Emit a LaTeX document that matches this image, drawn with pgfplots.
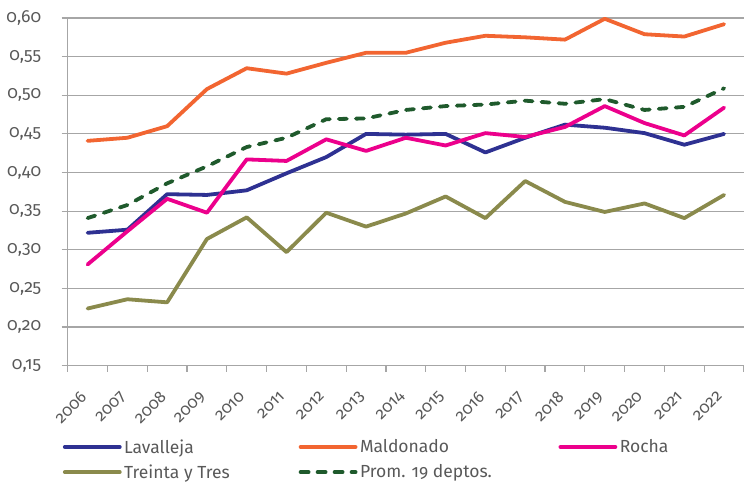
\documentclass[border=0pt]{standalone}
\usepackage{pgfplots}
\pgfplotsset{compat=1.18}
\usepackage{fontspec}
\setmainfont{Fira Sans}[Numbers=OldStyle]
\definecolor{cLav}{HTML}{2E3192}
\definecolor{cMal}{HTML}{F26531}
\definecolor{cRoc}{HTML}{EC008C}
\definecolor{cTyT}{HTML}{8A8A4C}
\definecolor{cProm}{HTML}{1F5A2C}
\definecolor{cTxt}{HTML}{595959}
\definecolor{cGrid}{HTML}{A6A6A6}
\newcommand{\lt}[1]{\makebox[172pt][l]{#1}}
\begin{document}
\begin{tikzpicture}[font=\fontsize{17.5}{21}\selectfont]
\useasboundingbox (-67.7pt,-118.3pt) rectangle (676.3pt,365.7pt);
\begin{axis}[
  scale only axis,
  width=676.3pt, height=347.7pt,
  xmin=-0.5, xmax=16.5,
  ymin=0.15, ymax=0.60,
  axis x line*=bottom, axis y line*=left,
  axis line style={draw=cGrid, line width=1.2pt, -},
  xtick={0,...,16},
  xticklabels={2006,2007,2008,2009,2010,2011,2012,2013,2014,2015,2016,2017,2018,2019,2020,2021,2022},
  minor xtick={-0.5,0.5,...,16.5},
  major x tick style={draw=none},
  tick align=outside,
  major tick length=6pt, minor tick length=6pt,
  tick style={draw=cGrid, line width=1.2pt},
  ytick={0.15,0.20,0.25,0.30,0.35,0.40,0.45,0.50,0.55,0.60},
  ymajorgrids,
  grid style={draw=cGrid, line width=1.2pt},
  /pgf/number format/assume math mode=true,
  yticklabel style={/pgf/number format/.cd, fixed, fixed zerofill, precision=2, use comma, /tikz/.cd, text=cTxt, xshift=-17pt},
  xticklabel style={xshift=-8pt, yshift=-17pt, rotate=45, anchor=north east, text=cTxt, inner sep=1pt, font=\fontsize{16.5}{20}\selectfont},
  legend columns=3,
  legend cell align=left,
  legend image code/.code={\draw[#1] (0pt,0pt) -- (55pt,0pt);},
  legend style={draw=none, fill=none, text=cTxt, inner sep=0pt,
    at={([xshift=-5pt,yshift=-73pt]axis description cs:0,0)}, anchor=north west,
    nodes={inner xsep=2.5pt, inner ysep=0.5pt},
    row sep=9pt, column sep=0pt,
    /tikz/column 4/.style={column sep=24pt}},
  every axis plot/.append style={line width=3.8pt, line join=round, line cap=round},
]
\addplot[cLav] coordinates {(0,0.322) (1,0.326) (2,0.372) (3,0.371) (4,0.377) (5,0.399) (6,0.420) (7,0.450) (8,0.449) (9,0.450) (10,0.426) (11,0.445) (12,0.462) (13,0.458) (14,0.451) (15,0.436) (16,0.450)};
\addlegendentry{\lt{Lavalleja}}
\addplot[cMal] coordinates {(0,0.441) (1,0.445) (2,0.460) (3,0.508) (4,0.535) (5,0.528) (6,0.542) (7,0.555) (8,0.555) (9,0.568) (10,0.577) (11,0.575) (12,0.572) (13,0.599) (14,0.579) (15,0.576) (16,0.592)};
\addlegendentry{\lt{Maldonado}}
\addplot[cRoc] coordinates {(0,0.281) (1,0.324) (2,0.366) (3,0.348) (4,0.417) (5,0.415) (6,0.443) (7,0.428) (8,0.445) (9,0.435) (10,0.451) (11,0.446) (12,0.459) (13,0.486) (14,0.464) (15,0.448) (16,0.484)};
\addlegendentry{\lt{Rocha}}
\addplot[cTyT] coordinates {(0,0.224) (1,0.236) (2,0.232) (3,0.314) (4,0.342) (5,0.297) (6,0.348) (7,0.330) (8,0.347) (9,0.369) (10,0.341) (11,0.389) (12,0.362) (13,0.349) (14,0.360) (15,0.341) (16,0.371)};
\addlegendentry{\lt{Treinta y Tres}}
\addplot[cProm, dash pattern=on 8pt off 9pt] coordinates {(0,0.341) (1,0.358) (2,0.386) (3,0.408) (4,0.433) (5,0.445) (6,0.469) (7,0.470) (8,0.481) (9,0.486) (10,0.488) (11,0.493) (12,0.489) (13,0.495) (14,0.481) (15,0.485) (16,0.509)};
\addlegendentry{\lt{Prom. 19 deptos.}}
\end{axis}
\end{tikzpicture}
\end{document}
